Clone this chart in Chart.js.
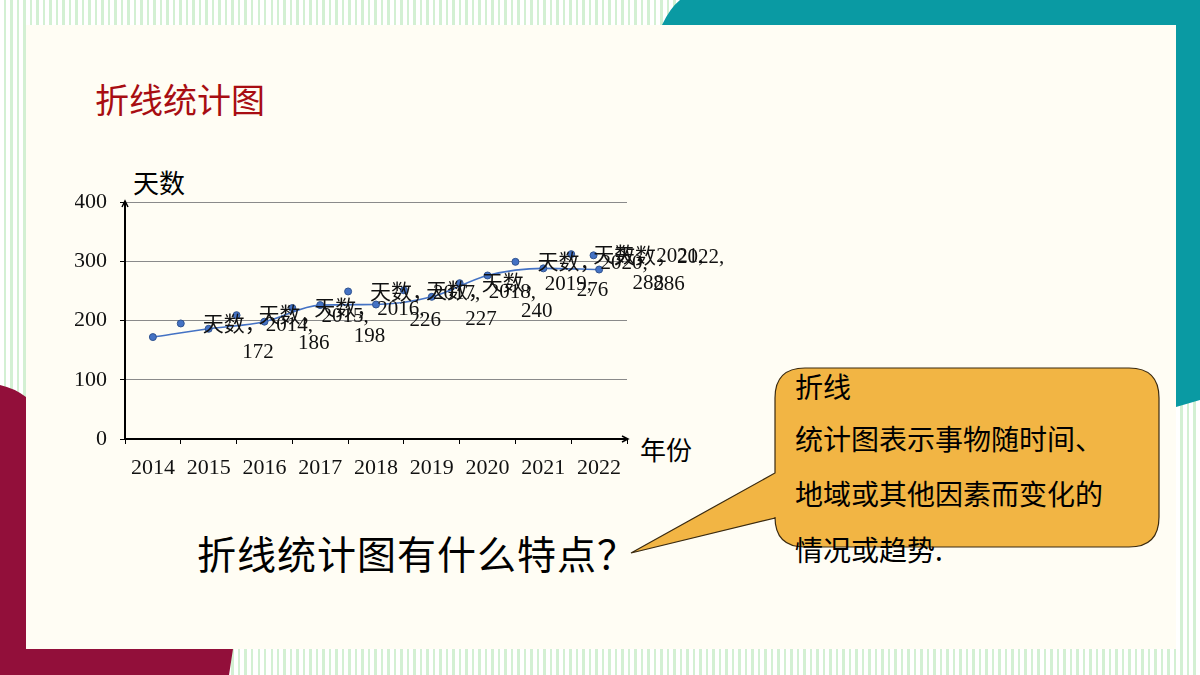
<!DOCTYPE html>
<html><head><meta charset="utf-8">
<script src="https://cdn.jsdelivr.net/npm/chart.js@4/dist/chart.umd.min.js"></script>
<style>
html,body{margin:0;padding:0;width:1200px;height:675px;overflow:hidden;}
body{position:relative;background:repeating-linear-gradient(90deg,#ffffff 0 4px,#d3f0d3 4px 6.5px);}
#panel{position:absolute;left:26px;top:25px;width:1150px;height:624px;background:#FFFDF4;}
svg.deco{position:absolute;left:0;top:0;}
.t{position:absolute;white-space:nowrap;font-family:"Noto Sans CJK SC",sans-serif;line-height:1;color:#000;}
#c{position:absolute;left:0;top:0;}
</style></head>
<body>
<div id="panel"></div>
<svg class="deco" width="1200" height="675">
  <path d="M680,0 L1200,0 L1200,400 L1176,407 L1176,25 L662,25 Q670,8 680,0 Z" fill="#0A9AA3"/>
  <path d="M0,385 Q14,388 26,397 L26,649 L233,649 L229,675 L0,675 Z" fill="#920F3A"/>
  <path d="M805,368 L1129,368 Q1159,368 1159,398 L1159,517 Q1159,547 1129,547 L805,547 Q775,547 775,517 L775,518 L631,553 L775,473 L775,398 Q775,368 805,368 Z" fill="#F2B544" stroke="#3a2a10" stroke-width="1.2"/>
</svg>
<div class="t" style="left:95px;top:82px;font-size:34px;color:#A80D12;">折线统计图</div>
<div class="t" style="left:133px;top:169px;font-size:26px;">天数</div>
<div class="t" style="left:640px;top:436px;font-size:26px;">年份</div>
<div class="t" style="left:197px;top:533px;font-size:39px;letter-spacing:1px;">折线统计图有什么特点？</div>
<div class="t" style="left:795px;top:372px;font-size:28px;">折线</div>
<div class="t" style="left:795px;top:424px;font-size:28px;">统计图表示事物随时间、</div>
<div class="t" style="left:795px;top:479px;font-size:28px;">地域或其他因素而变化的</div>
<div class="t" style="left:795px;top:535px;font-size:28px;">情况或趋势.</div>
<canvas id="c" width="1200" height="675"></canvas>
<script>
// ---- data ----
const seriesName = '天数';
const years = ['2014','2015','2016','2017','2018','2019','2020','2021','2022'];
const days = [172, 186, 198, 226, 227, 240, 276, 288, 286];
// stray markers seen in the picture (positions on the category-boundary scale, values)
const strayPos = [1, 2, 3, 4, 5, 6, 7, 8, 8.4];
const strayVals = [195, 209, 221, 249, 251, 263, 299, 312, 310];
const yTicks = [0, 100, 200, 300, 400];

// ---- styles ----
const serif = '"Liberation Serif", "Noto Sans CJK SC", serif';
const blue = '#4472C4';
const labelDx = [105,105,105,105,105,105,105,105,70];

const labelPlugin = {
  id: 'dlabels',
  afterDatasetsDraw(chart) {
    const ctx = chart.ctx;
    const meta = chart.getDatasetMeta(0);
    ctx.save();
    ctx.font = '21px ' + serif;
    ctx.fillStyle = '#111';
    ctx.textAlign = 'center';
    ctx.textBaseline = 'middle';
    meta.data.forEach((pt, i) => {
      const x = pt.x + labelDx[i];
      ctx.fillText(seriesName + '，' + years[i] + ',', x, pt.y - 12);
      ctx.fillText(String(days[i]), x, pt.y + 15);
    });
    ctx.restore();
  }
};
const arrowPlugin = {
  id: 'arrows',
  afterDraw(chart) {
    const a = chart.chartArea, ctx = chart.ctx;
    ctx.save();
    ctx.strokeStyle = '#000'; ctx.lineWidth = 1.5;
    ctx.beginPath();
    ctx.moveTo(a.right - 5, a.bottom - 3); ctx.lineTo(a.right + 1, a.bottom); ctx.lineTo(a.right - 5, a.bottom + 3);
    ctx.moveTo(a.left - 3, a.top + 5); ctx.lineTo(a.left, a.top - 1); ctx.lineTo(a.left + 3, a.top + 5);
    ctx.stroke();
    ctx.restore();
  }
};

new Chart(document.getElementById('c'), {
  type: 'line',
  data: {
    labels: years,
    datasets: [{
      label: seriesName,
      data: days,
      borderColor: blue, borderWidth: 1.6,
      pointBackgroundColor: blue, pointBorderColor: '#2F528F', pointBorderWidth: 1, pointRadius: 3.5,
      cubicInterpolationMode: 'monotone',
      xAxisID: 'x', yAxisID: 'y'
    }, {
      label: seriesName + '2',
      data: strayPos.map((p, i) => ({x: p, y: strayVals[i]})),
      showLine: false,
      pointBackgroundColor: blue, pointBorderColor: '#2F528F', pointBorderWidth: 1, pointRadius: 3.5,
      xAxisID: 'x2', yAxisID: 'y'
    }]
  },
  plugins: [labelPlugin, arrowPlugin],
  options: {
    responsive: false, animation: false, devicePixelRatio: 1,
    layout: { padding: { left: 75, right: 573, top: 202, bottom: 196 } },
    plugins: { legend: { display: false }, tooltip: { enabled: false } },
    scales: {
      x: {
        type: 'category', offset: true, position: 'bottom',
        afterFit: s => { s.height = 40; },
        border: { color: '#000', width: 2 },
        grid: { drawOnChartArea: false, offset: true, tickLength: 5, tickColor: '#000', color: '#000' },
        ticks: { font: { family: serif, size: 22 }, color: '#111', padding: 11, maxRotation: 0, autoSkip: false }
      },
      x2: { type: 'linear', min: 0, max: 9, display: false, position: 'bottom' },
      y: {
        min: 0, max: 400,
        afterFit: s => { s.width = 50; },
        afterBuildTicks: s => { s.ticks = yTicks.map(v => ({ value: v })); },
        border: { color: '#000', width: 2 },
        grid: { color: '#8a8a8a', lineWidth: 1, tickLength: 5, tickColor: '#000' },
        ticks: { font: { family: serif, size: 22 }, color: '#111', padding: 13 }
      }
    }
  }
});
</script>
</body></html>
